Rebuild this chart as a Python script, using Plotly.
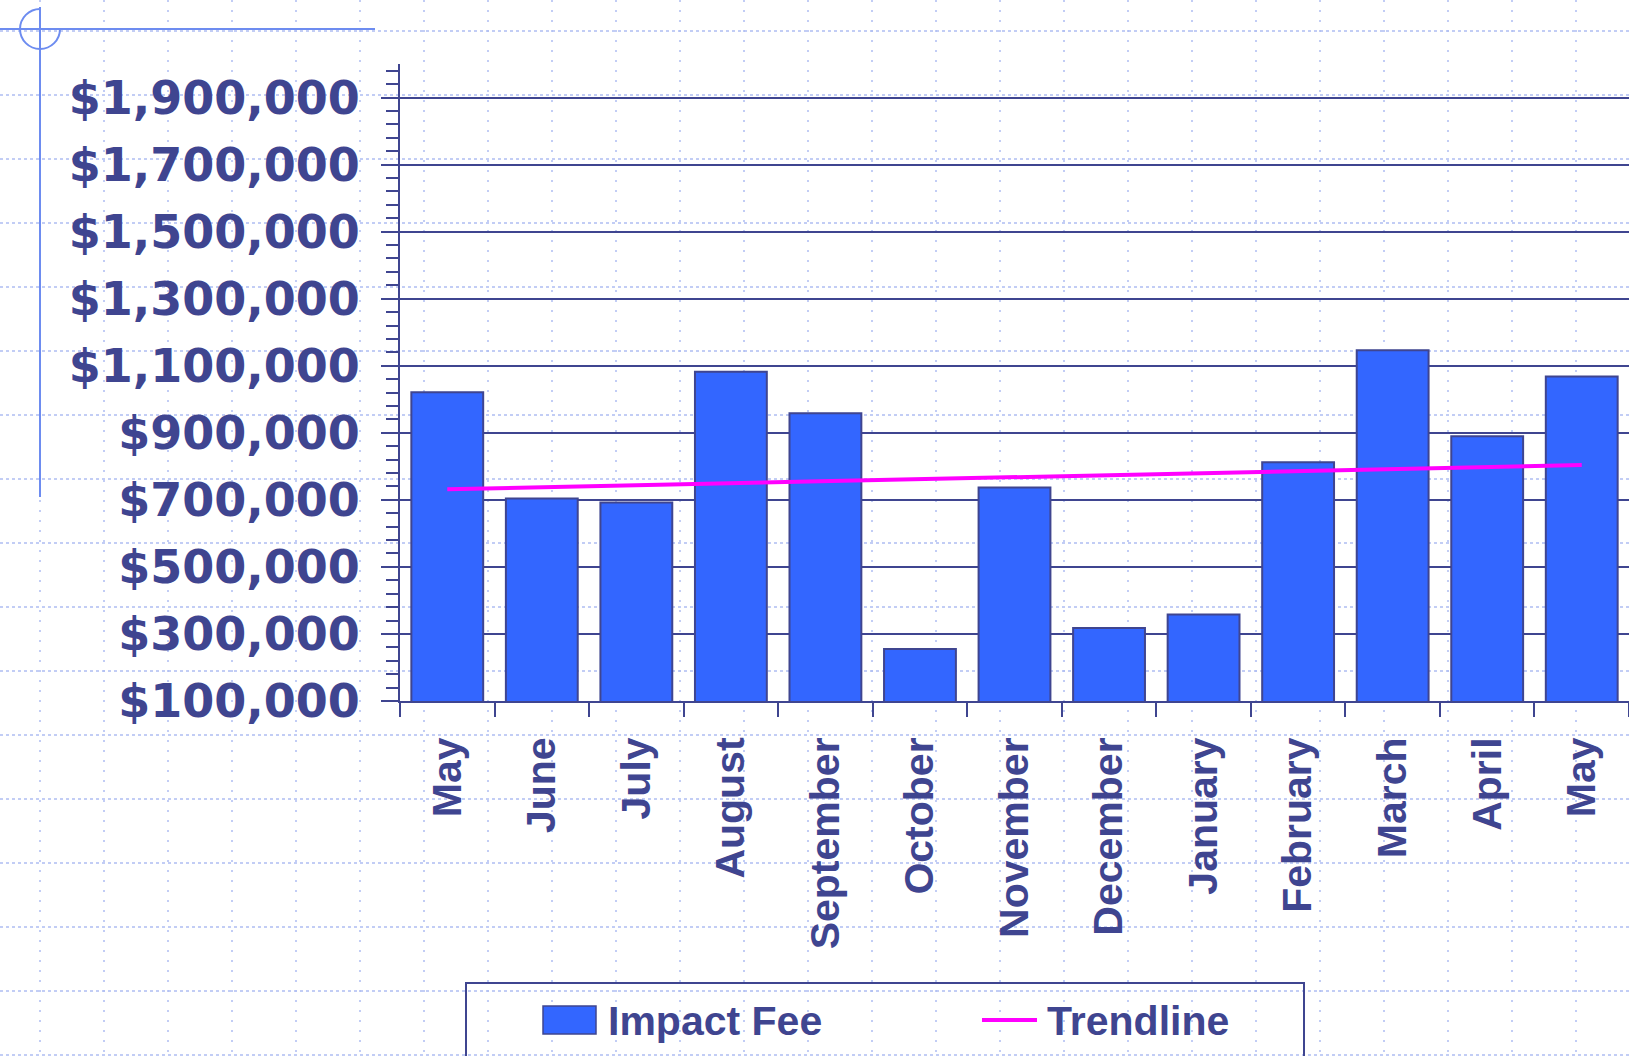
import plotly.graph_objects as go

# ---------------- data ----------------
months = ["May", "June", "July", "August", "September", "October", "November",
          "December", "January", "February", "March", "April", "May"]
impact_fee = [1021000, 704000, 692000, 1082000, 958000, 255000, 737000,
              318000, 358000, 812000, 1146000, 890000, 1068000]
trend_x_idx = [0, 12]
trend_values = [731600, 803600]
y_tickvals = [100000, 300000, 500000, 700000, 900000, 1100000, 1300000,
              1500000, 1700000, 1900000]
y_ticktext = ["$100,000", "$300,000", "$500,000", "$700,000", "$900,000",
              "$1,100,000", "$1,300,000", "$1,500,000", "$1,700,000", "$1,900,000"]

# ---------------- layout constants ----------------
FW, FH = 1629, 1056
L, T, B, R = 400, 64, 355, 0
PW = FW - L - R
PH = FH - T - B
NAVY = "#3f4590"
BAR = "#3366ff"
MAGENTA = "#ff00ff"
DOT = "#aebdf2"
DECO = "#6d8cf0"


def px(xp):
    return (xp - L) / PW


def py(yp):
    return (FH - B - yp) / PH


x_idx = list(range(len(months)))

fig = go.Figure()
fig.add_trace(go.Bar(
    x=x_idx, y=impact_fee, name="Impact Fee",
    marker=dict(color=BAR, line=dict(color=NAVY, width=2)),
    width=0.76, showlegend=False,
))
fig.add_trace(go.Scatter(
    x=trend_x_idx, y=trend_values, mode="lines", name="Trendline",
    line=dict(color=MAGENTA, width=4), showlegend=False,
))

shapes = []
# dotted background grid
for k in range(0, 26):
    xv = 40 + 64 * k
    if xv > FW:
        break
    shapes.append(dict(type="line", xref="paper", yref="paper",
                       x0=px(xv), x1=px(xv), y0=py(0), y1=py(FH),
                       line=dict(color=DOT, width=1.5, dash="2px,8px"),
                       layer="below"))
for k in range(0, 17):
    yv = 31 + 64 * k
    shapes.append(dict(type="line", xref="paper", yref="paper",
                       x0=px(0), x1=px(FW), y0=py(yv), y1=py(yv),
                       line=dict(color=DOT, width=1.5, dash="3px,3px"),
                       layer="below"))

# crosshair decoration
shapes.append(dict(type="line", xref="paper", yref="paper",
                   x0=px(0), x1=px(375), y0=py(29), y1=py(29),
                   line=dict(color=DECO, width=2), layer="below"))
shapes.append(dict(type="line", xref="paper", yref="paper",
                   x0=px(40), x1=px(40), y0=py(7), y1=py(497),
                   line=dict(color=DECO, width=2), layer="below"))
cx, cy, r = 40, 29, 20
k_ = 0.5523 * r


def P(a, b):
    return f"{px(a):.6f},{py(b):.6f}"


path = (f"M {P(cx, cy - r)} "
        f"C {P(cx - k_, cy - r)} {P(cx - r, cy - k_)} {P(cx - r, cy)} "
        f"C {P(cx - r, cy + k_)} {P(cx - k_, cy + r)} {P(cx, cy + r)} "
        f"C {P(cx + k_, cy + r)} {P(cx + r, cy + k_)} {P(cx + r, cy)}")
shapes.append(dict(type="path", xref="paper", yref="paper", path=path,
                   line=dict(color=DECO, width=2), layer="below"))

# legend box (manual)
shapes.append(dict(type="rect", xref="paper", yref="paper",
                   x0=px(466), x1=px(1304), y0=py(983), y1=py(1075),
                   line=dict(color=NAVY, width=2), fillcolor="rgba(0,0,0,0)"))
shapes.append(dict(type="rect", xref="paper", yref="paper",
                   x0=px(543), x1=px(596), y0=py(1006), y1=py(1034),
                   line=dict(color=NAVY, width=1.5), fillcolor=BAR))
shapes.append(dict(type="line", xref="paper", yref="paper",
                   x0=px(982), x1=px(1037), y0=py(1020), y1=py(1020),
                   line=dict(color=MAGENTA, width=4)))

annotations = [
    dict(text="<b>Impact Fee</b>", xref="paper", yref="paper",
         x=px(606), y=py(1021), xanchor="left", yanchor="middle",
         showarrow=False, font=dict(family="Liberation Sans, Arial", size=41, color=NAVY)),
    dict(text="<b>Trendline</b>", xref="paper", yref="paper",
         x=px(1045), y=py(1021), xanchor="left", yanchor="middle",
         showarrow=False, font=dict(family="Liberation Sans, Arial", size=41, color=NAVY)),
]

fig.update_layout(
    width=FW, height=FH,
    margin=dict(l=L, r=R, t=T, b=B, pad=0),
    paper_bgcolor="white", plot_bgcolor="rgba(0,0,0,0)",
    shapes=shapes, annotations=annotations,
    showlegend=False, bargap=0.24,
)
fig.update_xaxes(
    range=[-0.5, 12.5],
    tickmode="array", tickvals=x_idx, ticktext=[f"<b>{m}</b>" for m in months],
    tickangle=-90, ticks="", showgrid=False, zeroline=False,
    showline=True, linecolor=NAVY, linewidth=2,
    tickfont=dict(family="Liberation Sans, Arial", size=41, color=NAVY),
    ticklabelstandoff=18,
    minor=dict(tick0=-0.5, dtick=1, ticks="outside", ticklen=14,
               tickcolor=NAVY, tickwidth=2, showgrid=False),
)
fig.update_yaxes(
    range=[100000, 2000000],
    tickmode="array", tickvals=y_tickvals, ticktext=[f"<b>{t}</b>" for t in y_ticktext],
    ticks="outside", ticklen=17, tickwidth=2, tickcolor=NAVY,
    showgrid=True, gridcolor=NAVY, gridwidth=2, zeroline=False,
    showline=True, linecolor=NAVY, linewidth=2,
    tickfont=dict(family="DejaVu Sans", size=46, color=NAVY),
    ticklabelstandoff=12,
    minor=dict(tick0=100000, dtick=40000, ticks="outside", ticklen=12,
               tickcolor=NAVY, tickwidth=2, showgrid=False),
)

fig.write_html(
    "out.html",
    config={"displayModeBar": False},
    post_script="document.body.style.margin='0';document.body.style.overflow='hidden';",
)
